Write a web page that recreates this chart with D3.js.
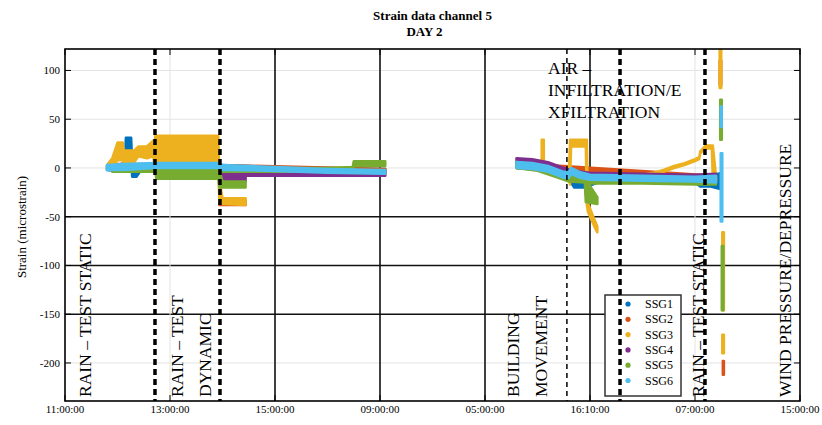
<!DOCTYPE html>
<html><head><meta charset="utf-8">
<script src="https://cdn.jsdelivr.net/npm/d3@7"></script>
<style>body{margin:0;background:#fff}svg{display:block}text{font-family:"Liberation Serif",serif;fill:#000}</style>
</head><body>
<svg id="c" width="822" height="425"></svg>
<script>
// ---- data ----
const titleLines = ["Strain data channel 5", "DAY 2"];
const yLabel = "Strain (microstrain)";
const xTicks = [0, 1, 2, 3, 4, 5, 6, 7];
const xTickLabels = ["11:00:00", "13:00:00", "15:00:00", "09:00:00", "05:00:00", "16:10:00", "07:00:00", "15:00:00"];
const yTicks = [-200, -150, -100, -50, 0, 50, 100];
const seriesNames = ["SSG1", "SSG2", "SSG3", "SSG4", "SSG5", "SSG6"];
// each row: [time (axis units), low, high]; null = gap
const ssg1 = [[0.40,-2,2],[0.50,-3,3],[0.57,-3,5],[0.58,8,31],[0.63,8,31],[0.64,-9,3],[0.68,-9,2],[0.72,-3,3],[0.86,-3,3],[1.2,-2,3],[1.48,-3,3],[2.0,-3,1],[2.5,-4,0],[3.05,-5,-1],null,
  [4.30,0,5],[4.5,-2,3],[4.7,-8,-2],[4.8,-12,-6],[4.85,-20,-8],[4.95,-20,-8],[5.1,-14,-9],[5.5,-14,-10],[6.0,-15,-10],[6.05,-19,-10],[6.15,-19,-8],[6.25,-22,-5]];
const ssg2 = [[0.45,-2,4],[0.86,-2,4],[0.87,30,32],[1.45,30,32],[1.46,-3,3],[3.05,-4,-1],null,
  [1.47,-38,-34],[1.72,-38,-34],null,
  [4.30,0,5],[6.2,-12,-8],null,[6.235,85,110],[6.25,85,110],null,[6.265,-212,-198],[6.275,-212,-198]];
const ssg3 = [[0.40,-2,3],[0.45,0,10],[0.50,8,26],[0.55,8,26],[0.56,6,18],[0.66,6,18],[0.70,12,22],[0.78,10,22],[0.84,12,28],[0.855,0,12],[0.86,0,33],[1.46,0,33],[1.47,-35,-12],[1.50,-37,-31],[1.72,-38,-31],null,
  [1.74,-4,0],[3.05,-7,-3],null,
  [4.30,0,6],[4.5,-2,4],[4.78,-10,-2],[4.80,-12,-2],[4.81,-17,29],[4.82,22,29],[4.96,22,29],[4.97,-38,29],[4.98,-45,-36],[5.05,-62,-55],[5.07,-66,-60],null,
  [4.54,5,29],[4.56,5,29],null,
  [5.0,-11,-9],[5.5,-9,-7],[5.6,-7,-5],[5.7,-4,-2],[5.8,0,2],[5.9,3,5],[6.0,7,9],[6.04,9,11],[6.05,15,17],[6.1,20,23],[6.16,20,23],[6.17,-12,23],[6.2,-14,-8],null,
  [6.235,82,121],[6.25,82,121],null,[6.26,-146,-66],[6.275,-146,-66],null,[6.26,-190,-171],[6.275,-190,-171]];
const ssg4 = [[1.47,-14,-4],[1.72,-14,-4],null,[1.72,-8,-3],[3.05,-8,-3],null,
  [4.30,4,10],[4.45,3,9],[4.6,0,6],[4.75,-6,0],[4.85,-9,-3],[5.0,-10,-5],[5.5,-11,-6],[6.0,-12,-7],[6.2,-13,-6]];
const ssg5 = [[0.45,-4,1],[0.86,-4,1],[0.87,-11,0],[1.46,-11,0],[1.47,-20,-2],[1.50,-20,-14],[1.72,-20,-14],null,
  [1.50,-4,0],[2.5,-4,0],[2.74,-3,1],[2.75,2,7],[3.05,2,7],null,
  [4.30,0,6],[4.5,-3,3],[4.7,-10,-4],[4.8,-14,-8],[4.95,-15,-10],[4.96,-35,-12],[5.07,-37,-30],null,
  [5.0,-16,-10],[5.5,-16,-11],[6.0,-17,-12],[6.2,-17,-10],null,
  [6.24,29,70],[6.255,29,70],null,[6.255,-146,-80],[6.27,-146,-80]];
const ssg6 = [[0.40,-2,3],[0.56,-2,4],[0.86,0,5],[1.46,0,5],[1.5,-2,3],[2.0,-3,1],[2.5,-5,-1],[3.05,-6,-2],null,
  [4.30,0,6],[4.45,-1,5],[4.6,-4,2],[4.75,-10,-4],[4.80,-10,-4],[4.82,-6,0],[4.9,-10,-4],[5.0,-12,-7],[5.5,-13,-8],[6.0,-14,-9],[6.2,-15,-8],null,
  [6.245,-55,15],[6.26,-55,15],null,[6.245,42,63],[6.255,42,63]];
const seriesData = [ssg1, ssg2, ssg3, ssg4, ssg5, ssg6];
const thickEventTimes = [0.857, 1.476, 5.286, 6.095];
const thinEventTimes = [4.78];
const darkGridX = [2, 3, 4, 5];
const darkGridY = [-50, -100, -150];
const eventLabels = [
  ["RAIN \u2013 TEST STATIC"],
  ["RAIN \u2013 TEST", "DYNAMIC"],
  ["BUILDING", "MOVEMENT"],
  ["RAIN \u2013 TEST STATIC"],
  ["WIND PRESSURE/DEPRESSURE"]
];
const airLabel = ["AIR \u2013", "INFILTRATION/E", "XFILTRATION"];

// ---- drawing ----
const colors = ["#0072BD", "#D95319", "#EDB120", "#7E2F8E", "#77AC30", "#4DBEEE"];
const svg = d3.select("#c");
const L = 65, R = 800, T = 49, B = 401;
const x = d3.scaleLinear().domain([0, 7]).range([L, R]);
const y = d3.scaleLinear().domain([-239, 122]).range([B, T]);

// grid
const g = svg.append("g");
g.selectAll(".gy").data(yTicks).enter().append("line")
  .attr("x1", L).attr("x2", R).attr("y1", d => y(d)).attr("y2", d => y(d))
  .attr("stroke", d => darkGridY.includes(d) ? "#111" : "#e3e3e3")
  .attr("stroke-width", d => darkGridY.includes(d) ? 1.6 : 1);
g.selectAll(".gx").data(xTicks.slice(1, -1)).enter().append("line")
  .attr("y1", T).attr("y2", B).attr("x1", d => x(d)).attr("x2", d => x(d))
  .attr("stroke", d => darkGridX.includes(d) ? "#111" : "#e3e3e3")
  .attr("stroke-width", d => darkGridX.includes(d) ? 1.6 : 1);

// series
const area = d3.area().defined(d => d !== null)
  .x(d => x(d[0])).y0(d => y(d[1])).y1(d => y(d[2]));
seriesData.forEach((s, i) => {
  svg.append("path").attr("d", area(s))
    .attr("fill", colors[i]).attr("stroke", colors[i])
    .attr("stroke-width", 2.5).attr("stroke-linejoin", "round");
});

// axes box & ticks
svg.append("rect").attr("x", L).attr("y", T).attr("width", R - L).attr("height", B - T)
  .attr("fill", "none").attr("stroke", "#000").attr("stroke-width", 1.6);
yTicks.forEach(v => {
  svg.append("line").attr("x1", L).attr("x2", L + 6).attr("y1", y(v)).attr("y2", y(v)).attr("stroke", "#000");
  svg.append("line").attr("x1", R - 6).attr("x2", R).attr("y1", y(v)).attr("y2", y(v)).attr("stroke", "#000");
});
xTicks.forEach(v => {
  svg.append("line").attr("x1", x(v)).attr("x2", x(v)).attr("y1", B - 6).attr("y2", B).attr("stroke", "#000");
  svg.append("line").attr("x1", x(v)).attr("x2", x(v)).attr("y1", T).attr("y2", T + 6).attr("stroke", "#000");
});
svg.append("g").selectAll("text").data(yTicks).enter().append("text")
  .attr("x", L - 5).attr("y", d => y(d) + 4).attr("text-anchor", "end")
  .attr("font-size", 11).text(d => d);
svg.append("g").selectAll("text").data(xTicks).enter().append("text")
  .attr("x", d => x(d)).attr("y", B + 12).attr("text-anchor", "middle")
  .attr("font-size", 11).text((d, i) => xTickLabels[i]);

// title & y label
svg.append("text").attr("x", (L + R) / 2).attr("y", 20).attr("text-anchor", "middle")
  .attr("font-size", 13).attr("font-weight", "bold").text(titleLines[0]);
svg.append("text").attr("x", (L + R) / 2 - 8).attr("y", 36).attr("text-anchor", "middle")
  .attr("font-size", 13).attr("font-weight", "bold").text(titleLines[1]);
svg.append("text").attr("transform", `translate(26,${(T + B) / 2 + 2}) rotate(-90)`)
  .attr("text-anchor", "middle").attr("font-size", 13).text(yLabel);

// legend
const lg = svg.append("g");
lg.append("rect").attr("x", 605).attr("y", 295).attr("width", 76).attr("height", 101)
  .attr("fill", "#fff").attr("stroke", "#333").attr("stroke-width", 1.5);
seriesNames.forEach((n, i) => {
  const yy = 304 + i * 15.3;
  lg.append("circle").attr("cx", 628).attr("cy", yy).attr("r", 2.6).attr("fill", colors[i]);
  lg.append("text").attr("x", 645).attr("y", yy + 4).attr("font-size", 12).text(n);
});

// event lines
svg.append("g").selectAll("line").data(thickEventTimes).enter().append("line")
  .attr("x1", d => x(d)).attr("x2", d => x(d)).attr("y1", T).attr("y2", B)
  .attr("stroke", "#000").attr("stroke-width", 3.5).attr("stroke-dasharray", "6,4");
svg.append("g").selectAll("line").data(thinEventTimes).enter().append("line")
  .attr("x1", d => x(d)).attr("x2", d => x(d)).attr("y1", T).attr("y2", B)
  .attr("stroke", "#000").attr("stroke-width", 1.5).attr("stroke-dasharray", "5,4");

// event labels (rotated)
const labelAnchors = [[91, 397], [183, 397], [519, 397], [704, 397], [791, 397]];
eventLabels.forEach((lines, i) => {
  const t = svg.append("text").attr("transform", `translate(${labelAnchors[i][0]},${labelAnchors[i][1]}) rotate(-90)`)
    .attr("font-size", 17.5);
  lines.forEach((ln, j) => t.append("tspan").attr("x", 0).attr("dy", j === 0 ? 0 : 27.5).text(ln));
});
const at = svg.append("text").attr("font-size", 17.5);
airLabel.forEach((ln, j) => at.append("tspan").attr("x", 548).attr("y", 74 + j * 22).text(ln));
</script>
</body></html>
